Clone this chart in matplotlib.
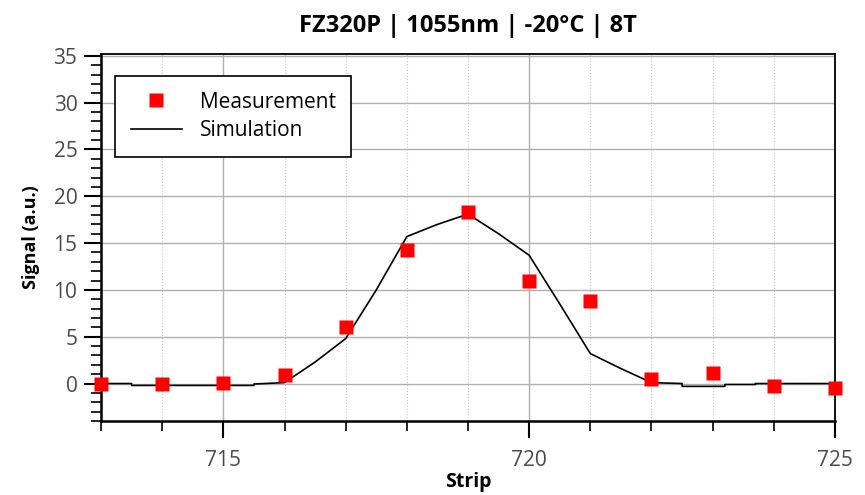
import numpy as np
import matplotlib.pyplot as plt
from matplotlib.ticker import MultipleLocator

# measured signal per strip
strips = [713, 714, 715, 716, 717, 718, 719, 720, 721, 722, 723, 724, 725]
measured = [-0.1, -0.1, 0.1, 0.9, 6.0, 14.3, 18.3, 11.0, 8.8, 0.5, 1.1, -0.3, -0.5]

# simulated signal (finer sampling)
sim_x = [713, 713.5, 713.5, 715.5, 715.5, 716, 716.5, 717, 717.5, 718, 718.5,
         719, 719.5, 720, 720.5, 721, 721.5, 722, 722.5, 722.5, 723.2, 723.2,
         723.7, 723.7, 725]
sim_y = [0.0, 0.0, -0.2, -0.2, -0.05, 0.1, 2.3, 4.8, 10.0, 15.7, 17.0,
         18.1, 16.0, 13.7, 8.5, 3.2, 1.6, 0.1, 0.0, -0.3, -0.3, -0.1,
         -0.1, 0.0, 0.0]

TITLE = "FZ320P | 1055nm | -20°C | 8T"

plt.rcParams["font.family"] = ["Open Sans", "DejaVu Sans"]

fig = plt.figure(figsize=(8.65, 4.95), dpi=100)
ax = fig.add_axes([0.1168, 0.1495, 0.8485, 0.7414])

ax.plot(sim_x, sim_y, color="black", linewidth=1.2, label="Simulation", zorder=3)
ax.plot(strips, measured, linestyle="none", marker="s", markersize=10,
        color="#ff0000", markeredgecolor="none", label="Measurement",
        zorder=4, clip_on=False)

ax.set_xlim(713, 725)
ax.set_ylim(-4, 35.2)

ax.xaxis.set_major_locator(MultipleLocator(5))
ax.xaxis.set_minor_locator(MultipleLocator(1))
ax.yaxis.set_major_locator(MultipleLocator(5))
ax.yaxis.set_minor_locator(MultipleLocator(1))

ax.grid(which="major", axis="both", color="#b0b0b0", linewidth=1.0, linestyle="-")
ax.grid(which="minor", axis="x", color="#c8c8c8", linewidth=0.8, linestyle=":")
ax.set_axisbelow(True)

ax.tick_params(which="major", direction="out", length=12, width=1.5,
               labelsize=15, labelcolor="#4a4a4a", color="black", pad=5)
ax.tick_params(which="minor", direction="out", length=7, width=1.2, color="black")
ax.tick_params(axis="x", which="major", pad=9)

for side in ["left", "bottom"]:
    ax.spines[side].set_linewidth(1.8)
for side in ["top", "right"]:
    ax.spines[side].set_linewidth(1.3)

ax.set_xlabel("Strip", fontsize=14, fontweight="bold", labelpad=0.5)
ax.set_ylabel("Signal (a.u.)", fontsize=13, fontweight="bold", labelpad=9.5)
ax.set_title(TITLE, fontsize=17, fontweight="bold", pad=16)

handles, labels = ax.get_legend_handles_labels()
leg = ax.legend(handles[::-1], labels[::-1], loc="upper left",
                bbox_to_anchor=(0.019, 0.94), fontsize=15, frameon=True,
                fancybox=False, edgecolor="black", framealpha=1,
                handlelength=2.45, handletextpad=0.87, borderpad=0.75,
                labelspacing=0.35, borderaxespad=0)
leg.get_frame().set_linewidth(1.2)

fig.savefig("out.png", dpi=100)
